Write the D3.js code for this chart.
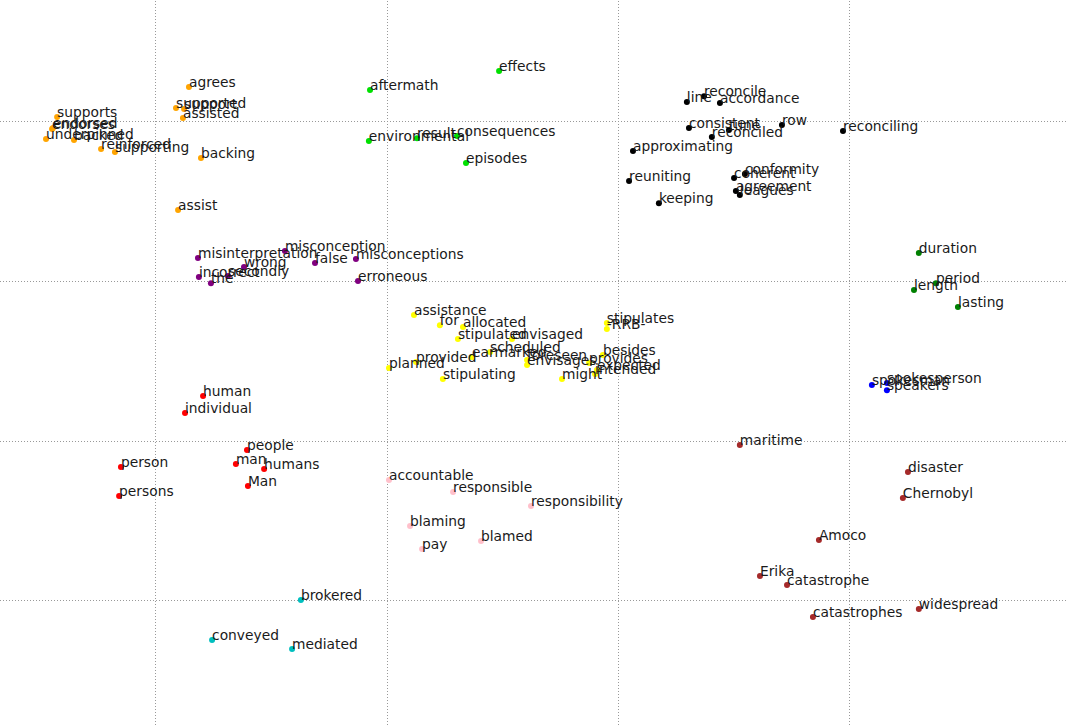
<!DOCTYPE html>
<html>
<head>
<meta charset="utf-8">
<script src="https://cdn.jsdelivr.net/npm/d3@7"></script>
<style>
html,body{margin:0;padding:0;background:#fff;}
svg{display:block;}
</style>
</head>
<body>
<svg id="chart" width="1068" height="725"></svg>
<script>
// Cluster colours
const clusterColors = ["#FFA500", "#00E000", "#000000", "#800080", "#FFFF00", "#008000", "#0000FF", "#FF0000", "#FFC0CB", "#A52A2A", "#00BFBF"];

// Words, their cluster, and 2-D embedding coordinates
const words = [
  "agrees","supported","support","assisted","supports","endorsed","endorses","underpinned","backed","reinforced","supporting","backing","assist",
  "effects","aftermath","environmental","result","consequences","episodes",
  "line","reconcile","accordance","consistent","tune","reconciled","row","reconciling","approximating","reuniting","keeping","coherent","conformity","agreement","leagues",
  "misinterpretation","misconception","false","misconceptions","wrong","incorrect","secondly","the","erroneous",
  "assistance","for","allocated","stipulated","envisaged","scheduled","earmarked","provided","planned","stipulating","foreseen","envisages","might","stipulates","-RRB-","besides","provides","expected","intended",
  "duration","length","period","lasting",
  "spokesman","spokesperson","speakers",
  "human","individual","people","man","humans","Man","person","persons",
  "accountable","responsible","responsibility","blaming","blamed","pay",
  "maritime","disaster","Chernobyl","Amoco","Erika","catastrophe","widespread","catastrophes",
  "brokered","conveyed","mediated"
];
const cluster = [
  0,0,0,0,0,0,0,0,0,0,0,0,0,
  1,1,1,1,1,1,
  2,2,2,2,2,2,2,2,2,2,2,2,2,2,2,
  3,3,3,3,3,3,3,3,3,
  4,4,4,4,4,4,4,4,4,4,4,4,4,4,4,4,4,4,4,
  5,5,5,5,
  6,6,6,
  7,7,7,7,7,7,7,7,
  8,8,8,8,8,8,
  9,9,9,9,9,9,9,9,
  10,10,10
];
const xVals = [
  -18.55,-19.11,-18.76,-18.81,-24.25,-24.43,-24.47,-24.73,-23.52,-22.35,-21.75,-18.03,-19.02,
  -5.14,-10.72,-10.77,-8.69,-6.96,-6.57,
  2.98,3.72,4.41,3.07,4.80,4.06,7.09,9.73,0.65,0.48,1.77,5.02,5.49,5.10,5.27,
  -18.16,-14.40,-13.10,-11.33,-16.17,-18.12,-16.86,-17.60,-11.24,
  -8.82,-7.70,-6.70,-6.92,-4.58,-5.53,-6.31,-8.73,-9.90,-7.57,-3.93,-3.93,-2.42,-0.48,-0.48,-0.65,-1.25,-0.91,-0.99,
  13.01,12.80,13.75,14.70,
  10.98,11.63,11.63,
  -17.94,-18.72,-16.04,-16.52,-15.30,-16.00,-21.49,-21.57,
  -9.90,-7.13,-3.76,-8.99,-5.92,-8.47,
  5.27,12.54,12.32,8.69,6.14,7.31,13.01,8.43,
  -13.71,-17.55,-14.09
];
const yVals = [
  12.15,10.83,10.77,10.21,10.27,9.58,9.52,8.89,8.83,8.27,8.08,7.70,4.45,
  13.15,11.96,8.77,8.95,9.08,7.39,
  11.21,11.58,11.15,9.58,9.46,9.02,9.77,9.39,8.14,6.26,4.88,6.45,6.70,5.64,5.39,
  1.44,1.88,1.13,1.38,0.88,0.25,0.31,-0.13,0.00,
  -2.13,-2.76,-2.88,-3.63,-3.63,-4.45,-4.76,-5.07,-5.45,-6.14,-4.95,-5.26,-6.14,-2.63,-3.01,-4.63,-5.13,-5.57,-5.82,
  1.75,-0.56,-0.13,-1.63,
  -6.51,-6.39,-6.83,
  -7.20,-8.27,-10.58,-11.46,-11.77,-12.84,-11.65,-13.46,
  -12.46,-13.21,-14.09,-15.34,-16.28,-16.78,
  -10.27,-11.96,-13.59,-16.22,-18.47,-19.04,-20.54,-21.04,
  -19.97,-22.48,-23.04
];
const xTicks = [-20, -10, 0, 10];
const yTicks = [10, 0, -10, -20];

const W = 1068, H = 725;
const svg = d3.select("#chart");
const x = d3.scaleLinear().domain([-26.72, 19.46]).range([0, W]);
const y = d3.scaleLinear().domain([17.6, -27.8]).range([0, H]);

// Grid via axes (ticks hidden, labels hidden)
const gx = svg.append("g").attr("transform", `translate(0,${H})`)
  .call(d3.axisBottom(x).tickValues(xTicks).tickSize(-H).tickFormat(""));
const gy = svg.append("g")
  .call(d3.axisLeft(y).tickValues(yTicks).tickSize(-W).tickFormat(""));
[gx, gy].forEach(g => {
  g.select(".domain").remove();
  g.selectAll(".tick line").attr("stroke", "#999").attr("stroke-width", 1)
    .attr("stroke-dasharray", "1,2").attr("shape-rendering", "crispEdges");
});

const data = words.map((w, i) => ({w, c: cluster[i], x: xVals[i], y: yVals[i]}));
const groups = d3.groups(data, d => d.c);
groups.forEach(([c, pts]) => {
  const g = svg.append("g");
  g.selectAll("circle").data(pts).join("circle")
    .attr("cx", d => x(d.x)).attr("cy", d => y(d.y)).attr("r", 3)
    .attr("fill", clusterColors[c]);
  g.selectAll("text").data(pts).join("text")
    .attr("x", d => x(d.x)).attr("y", d => y(d.y))
    .attr("font-family", "DejaVu Sans, sans-serif").attr("font-size", "13.8px")
    .attr("fill", "#1a1a1a").text(d => d.w);
});
</script>
</body>
</html>
